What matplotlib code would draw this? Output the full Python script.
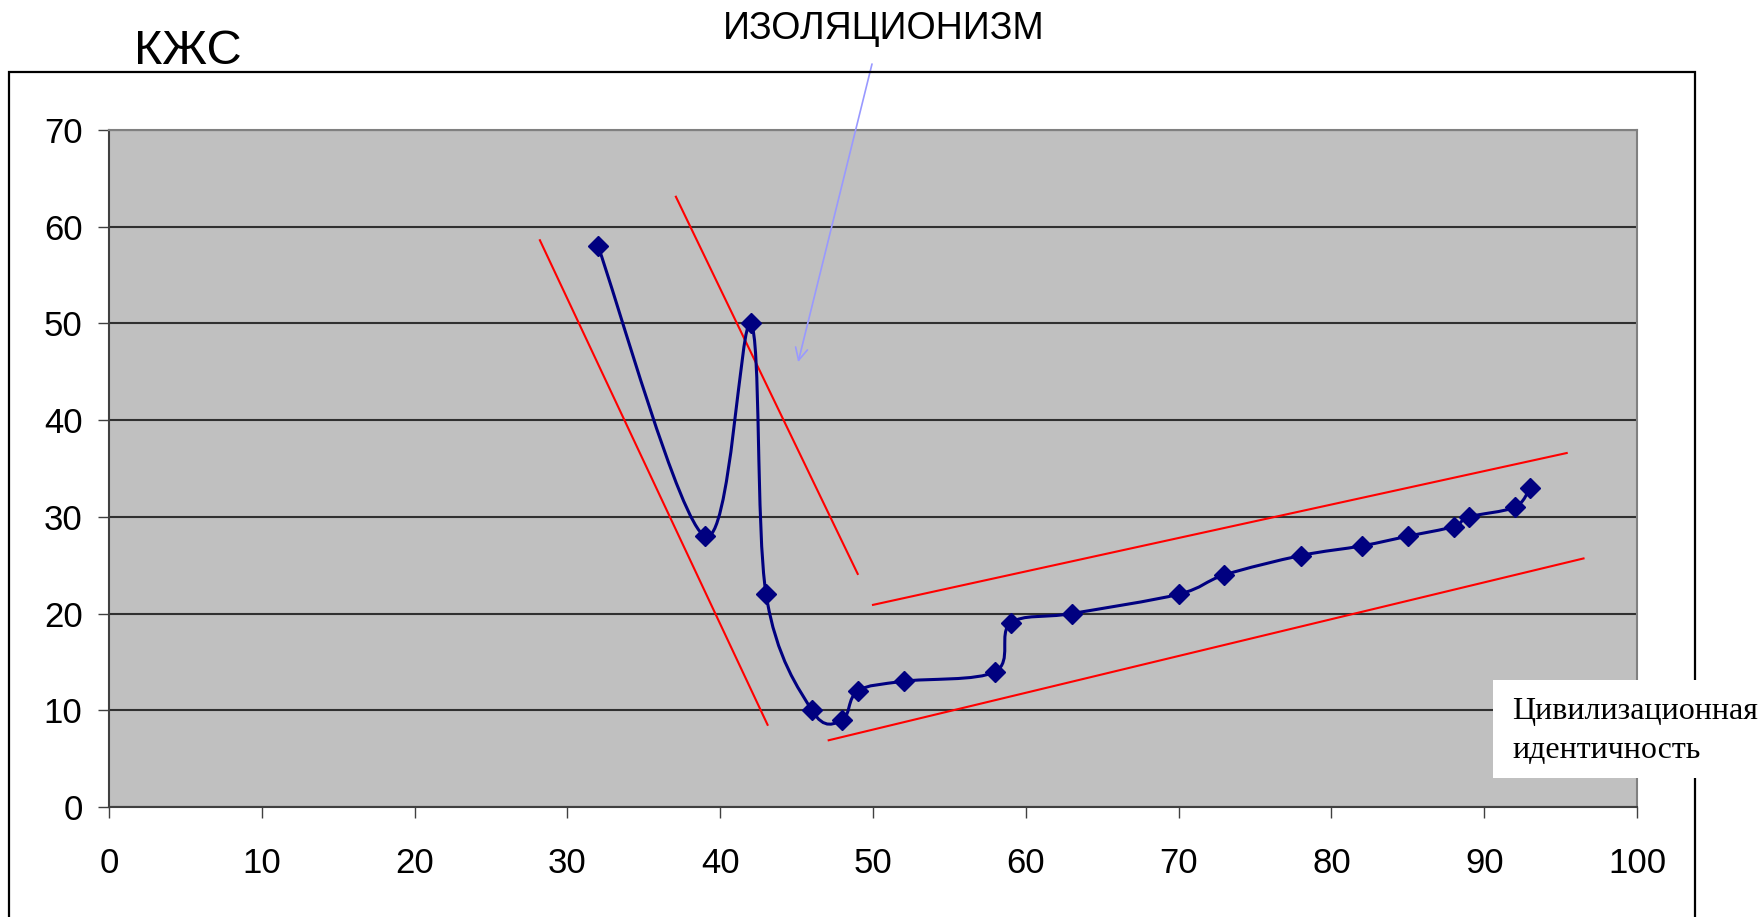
import matplotlib
matplotlib.use("Agg")
import matplotlib.pyplot as plt
from matplotlib.path import Path
from matplotlib.patches import PathPatch, Rectangle

# data
x_vals = [32, 39, 42, 43, 46, 48, 49, 52, 58, 59, 63, 70, 73, 78, 82, 85, 88, 89, 92, 93]
y_vals = [58, 28, 50, 22, 10, 9, 12, 13, 14, 19, 20, 22, 24, 26, 27, 28, 29, 30, 31, 33]

# red trend lines: (x0, y0, x1, y1)
trend_lines = [
    (28.2, 58.6, 43.1, 8.5),
    (37.1, 63.1, 49.0, 24.1),
    (50.0, 20.9, 95.4, 36.6),
    (47.1, 6.9, 96.5, 25.7),
]

x_ticks = list(range(0, 101, 10))
y_ticks = list(range(0, 71, 10))

W, H = 1762, 917


def smooth_path(xs, ys):
    """Excel-like smoothed line: cubic Bezier segments (Catmull-Rom control points)."""
    pts = list(zip(xs, ys))
    n = len(pts)
    verts = [pts[0]]
    codes = [Path.MOVETO]
    for i in range(n - 1):
        p0 = pts[i - 1] if i > 0 else pts[i]
        p1 = pts[i]
        p2 = pts[i + 1]
        p3 = pts[i + 2] if i + 2 < n else pts[i + 1]
        c1 = (p1[0] + (p2[0] - p0[0]) / 6, p1[1] + (p2[1] - p0[1]) / 6)
        c2 = (p2[0] - (p3[0] - p1[0]) / 6, p2[1] - (p3[1] - p1[1]) / 6)
        verts += [c1, c2, p2]
        codes += [Path.CURVE4] * 3
    return Path(verts, codes)


plt.rcParams["font.family"] = ["Liberation Sans", "DejaVu Sans"]

fig = plt.figure(figsize=(W / 100, H / 100), dpi=100)
ax = fig.add_axes([109 / W, 1 - 807 / H, (1637 - 109) / W, (807 - 130) / H])
ax.set_facecolor("#C0C0C0")
ax.set_xlim(0, 100)
ax.set_ylim(0, 70)
ax.set_xticks(x_ticks)
ax.set_yticks(y_ticks)
ax.tick_params(axis="both", direction="out", length=8, width=1, color="#404040", labelsize=25)
ax.tick_params(axis="x", pad=21)
ax.tick_params(axis="y", pad=11)
ax.yaxis.grid(True, color="#303030", lw=1.5)
ax.set_axisbelow(True)
for side, sp in ax.spines.items():
    sp.set_color("#808080")
    sp.set_linewidth(1.5)
ax.spines["bottom"].set_color("#404040")
ax.spines["left"].set_color("#404040")

for x0, y0, x1, y1 in trend_lines:
    ax.plot([x0, x1], [y0, y1], color="red", lw=1.5, zorder=3)

ax.add_patch(PathPatch(smooth_path(x_vals, y_vals), facecolor="none",
                       edgecolor="#000080", lw=2.2, zorder=4))
ax.plot(x_vals, y_vals, ls="none", marker="D", ms=10, color="#000080", zorder=5)

# arrow from the label into the plot
ax.annotate("", xy=(45.1, 46.0), xycoords="data",
            xytext=(872 / W, 1 - 64 / H), textcoords="figure fraction",
            arrowprops=dict(arrowstyle="->", color="#9999FF", lw=1.2,
                            mutation_scale=22, shrinkA=0, shrinkB=0),
            zorder=6)

# outer chart frame
fig.patches.append(Rectangle((9 / W, -0.1), (1695 - 9) / W, 1.1 - 72 / H,
                             transform=fig.transFigure, fill=False,
                             edgecolor="black", lw=1.6, zorder=0))

fig.text(188 / W, 1 - 52 / H, "КЖС", fontsize=35, ha="center", va="center")
fig.text(884 / W, 1 - 29 / H, "ИЗОЛЯЦИОНИЗМ", fontsize=27, ha="center", va="center")

# legend box
fig.patches.append(Rectangle((1493 / W, 1 - 778 / H), (1770 - 1493) / W, (778 - 680) / H,
                             transform=fig.transFigure, facecolor="white",
                             edgecolor="none", zorder=10))
fig.text(1512 / W, 1 - 712 / H, "Цивилизационная", fontsize=23,
         family=["Liberation Serif", "DejaVu Serif"], ha="left", va="center", zorder=11)
fig.text(1512 / W, 1 - 750 / H, "идентичность", fontsize=23,
         family=["Liberation Serif", "DejaVu Serif"], ha="left", va="center", zorder=11)

fig.savefig("out.png", dpi=100)
